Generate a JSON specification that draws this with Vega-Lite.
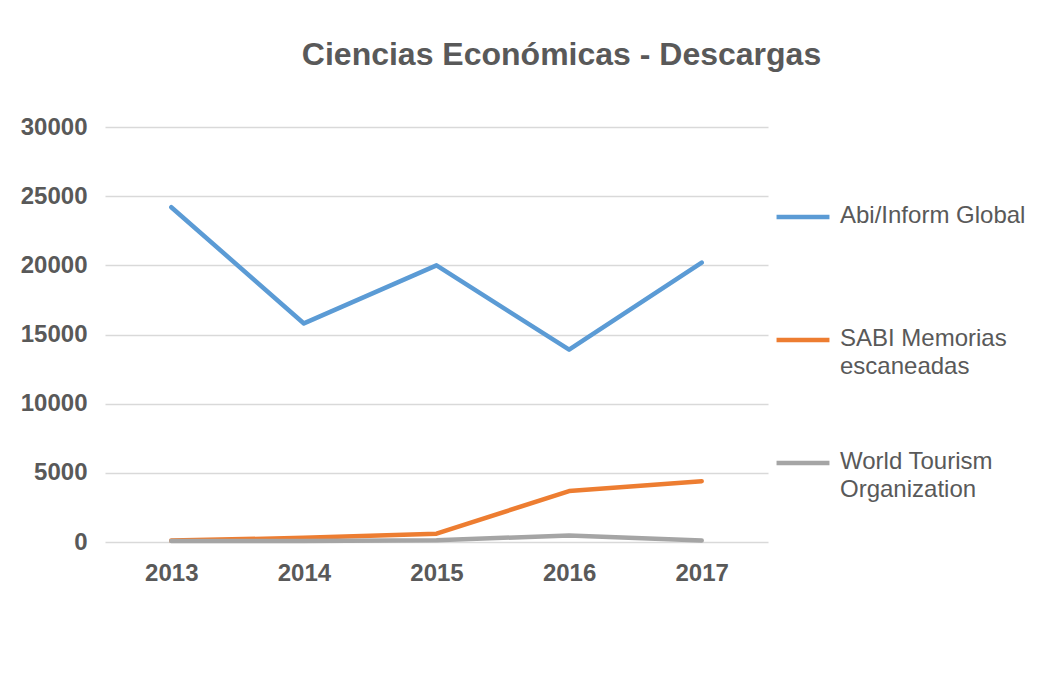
{
  "$schema": "https://vega.github.io/schema/vega-lite/v6.json",
  "width": 663,
  "height": 415,
  "padding": {"left": 20, "top": 39, "right": 5, "bottom": 5},
  "background": "white",
  "title": {
    "text": "Ciencias Económicas - Descargas",
    "fontSize": 32,
    "font": "Liberation Sans",
    "fontWeight": "bold",
    "color": "#595959",
    "anchor": "middle",
    "dx": 125,
    "offset": 43
  },
  "data": {
    "values": [
      {"year": "2013", "series": "Abi/Inform Global", "value": 24200},
      {"year": "2014", "series": "Abi/Inform Global", "value": 15800},
      {"year": "2015", "series": "Abi/Inform Global", "value": 20000},
      {"year": "2016", "series": "Abi/Inform Global", "value": 13900},
      {"year": "2017", "series": "Abi/Inform Global", "value": 20200},
      {"year": "2013", "series": "SABI Memorias escaneadas", "value": 100},
      {"year": "2014", "series": "SABI Memorias escaneadas", "value": 300},
      {"year": "2015", "series": "SABI Memorias escaneadas", "value": 600},
      {"year": "2016", "series": "SABI Memorias escaneadas", "value": 3680},
      {"year": "2017", "series": "SABI Memorias escaneadas", "value": 4400},
      {"year": "2013", "series": "World Tourism Organization", "value": 80},
      {"year": "2014", "series": "World Tourism Organization", "value": 80},
      {"year": "2015", "series": "World Tourism Organization", "value": 130},
      {"year": "2016", "series": "World Tourism Organization", "value": 470},
      {"year": "2017", "series": "World Tourism Organization", "value": 100}
    ]
  },
  "mark": {"type": "line", "strokeWidth": 4.5, "strokeCap": "round", "strokeJoin": "round"},
  "encoding": {
    "x": {
      "field": "year",
      "type": "ordinal",
      "scale": {"type": "point", "padding": 0.5},
      "axis": {
        "title": null,
        "labelAngle": 0,
        "labelFont": "Liberation Sans",
        "labelFontSize": 24,
        "labelFontWeight": "bold",
        "labelColor": "#595959",
        "labelPadding": 19,
        "ticks": false,
        "domain": false,
        "grid": false
      }
    },
    "y": {
      "field": "value",
      "type": "quantitative",
      "scale": {"domain": [0, 30000], "nice": false},
      "axis": {
        "title": null,
        "values": [0, 5000, 10000, 15000, 20000, 25000, 30000],
        "format": "d",
        "labelFont": "Liberation Sans",
        "labelFontSize": 24,
        "labelFontWeight": "bold",
        "labelColor": "#595959",
        "labelPadding": 18,
        "ticks": false,
        "domain": false,
        "grid": true,
        "gridColor": "#D9D9D9",
        "gridWidth": 1.3
      }
    },
    "color": {
      "field": "series",
      "type": "nominal",
      "scale": {
        "domain": ["Abi/Inform Global", "SABI Memorias escaneadas", "World Tourism Organization"],
        "range": ["#5B9BD5", "#ED7D31", "#A5A5A5"]
      },
      "legend": {
        "title": null,
        "orient": "none",
        "legendX": 669,
        "legendY": 61,
        "symbolType": "stroke",
        "symbolStrokeWidth": 4.5,
        "symbolSize": 2800,
        "labelFont": "Liberation Sans",
        "labelFontSize": 24,
        "labelColor": "#595959",
        "labelBaseline": "top",
        "labelLimit": 300,
        "labelOffset": 8,
        "rowPadding": 55,
        "labelExpr": "datum.label == 'SABI Memorias escaneadas' ? ['SABI Memorias', 'escaneadas'] : datum.label == 'World Tourism Organization' ? ['World Tourism', 'Organization'] : [datum.label, ' ']",
        "encode": {"labels": {"update": {"dy": {"value": -13}, "lineHeight": {"value": 28}}}}
      }
    }
  },
  "config": {"view": {"stroke": null}}
}
